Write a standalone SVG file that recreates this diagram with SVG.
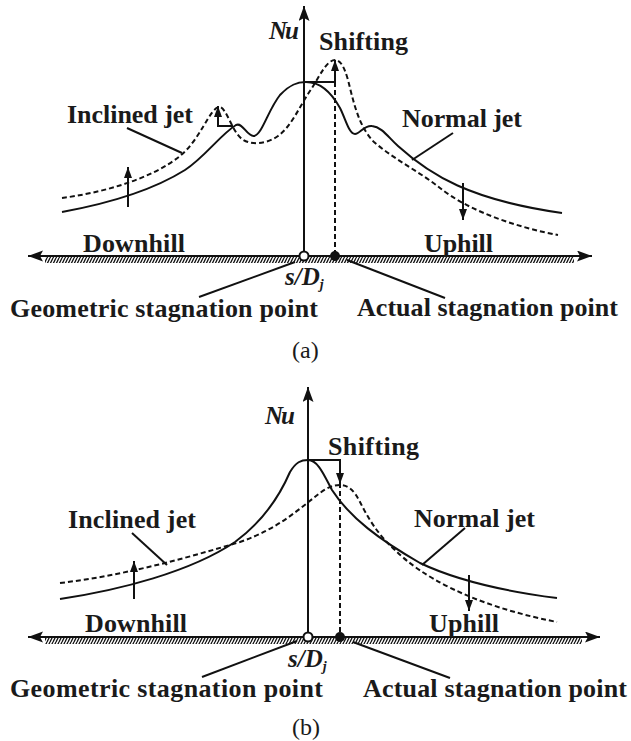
<svg xmlns="http://www.w3.org/2000/svg" width="631" height="741" viewBox="0 0 631 741">
<style>
.t{font-family:"Liberation Serif","Times New Roman",serif;font-weight:bold;font-size:26px;fill:#1a1a1a}
.it{font-family:"Liberation Serif","Times New Roman",serif;font-weight:bold;font-style:italic;font-size:25px;fill:#1a1a1a}
.cap{font-family:"Liberation Serif","Times New Roman",serif;font-size:24px;fill:#1a1a1a}
.ln{fill:none;stroke:#111;stroke-width:2}
.ds{fill:none;stroke:#111;stroke-width:2;stroke-dasharray:5 3}
.ax{fill:none;stroke:#111;stroke-width:2}
</style>
<defs>
<marker id="ah" markerUnits="userSpaceOnUse" markerWidth="16" markerHeight="12" refX="15" refY="5.5" orient="auto"><path d="M0,0 L15,5.5 L0,11 L3,5.5 z" fill="#111"/></marker>
<marker id="sa" markerUnits="userSpaceOnUse" markerWidth="12" markerHeight="9" refX="11" refY="4" orient="auto"><path d="M0,0 L11,4 L0,8 z" fill="#111"/></marker>
<pattern id="hatch" patternUnits="userSpaceOnUse" width="3" height="6"><path d="M-1,6 L2,0 M2,6 L5,0" stroke="#111" stroke-width="1.3"/></pattern>
</defs>

<g id="panel-a">
  <g id="a-axes">
    <rect x="45" y="257" width="529" height="6" fill="url(#hatch)"/>
    <path class="ax" d="M308,256 L28,256" marker-end="url(#ah)"/>
    <path class="ax" d="M300,256 L592,256" marker-end="url(#ah)"/>
    <line class="ax" x1="304" y1="256" x2="304" y2="6" marker-end="url(#ah)"/>
  </g>
  <g id="a-normal-jet">
    <path class="ln" d="M62,212 C100,205 150,192 185,170 C205,157 220,135 236,125 C243,122 247,137 254,136 C262,135 268,110 280,95 C290,84 298,82 306,82 C318,82 330,90 340,108 C346,120 349,134 355,134 C360,134 364,125 372,126 C382,127 388,137 398,146 C430,175 470,200 562,213"/>
  </g>
  <g id="a-inclined-jet">
    <path class="ds" d="M62,198 C100,193 150,180 180,156 C200,140 210,108 219,107 C226,106 232,132 242,139 C250,145 265,145 278,136 C292,126 300,105 312,88 C320,75 327,60 335,60 C343,60 347,75 351,92 C356,112 362,130 374,142 C395,160 420,172 440,188 C470,212 520,228 558,235"/>
  </g>
  <g id="a-stagnation">
    <line class="ds" x1="335" y1="82" x2="335" y2="252"/>
    <circle cx="304" cy="256" r="4.5" fill="#fff" stroke="#111" stroke-width="2"/>
    <circle cx="335" cy="256" r="5" fill="#111"/>
  </g>
  <g id="a-labels">
    <text class="it" x="269" y="39" textLength="30">Nu</text>
    <text class="t" x="319" y="50" textLength="89">Shifting</text>
    <text class="t" x="67" y="123" textLength="126">Inclined jet</text>
    <text class="t" x="402" y="127" textLength="120">Normal jet</text>
    <text class="t" x="83" y="252" textLength="102">Downhill</text>
    <text class="t" x="424" y="252" textLength="69">Uphill</text>
    <text class="it" x="285" y="285">s/D<tspan font-size="14" dy="4">j</tspan></text>
    <text class="t" x="10" y="317" textLength="308">Geometric stagnation point</text>
    <text class="t" x="357" y="316" textLength="261">Actual stagnation point</text>
    <text class="cap" x="292" y="358">(a)</text>
  </g>
</g>

<g id="panel-b">
  <g id="b-axes">
    <rect x="45" y="638" width="537" height="6" fill="url(#hatch)"/>
    <path class="ax" d="M312,637 L28,637" marker-end="url(#ah)"/>
    <path class="ax" d="M304,637 L600,637" marker-end="url(#ah)"/>
    <line class="ax" x1="308" y1="637" x2="308" y2="387" marker-end="url(#ah)"/>
  </g>
  <g id="b-normal-jet">
    <path class="ln" d="M60,599 C120,590 190,572 235,542 C265,520 280,495 290,472 C296,462 301,460 308,460 C318,460 324,475 332,490 C350,518 380,540 420,563 C460,582 510,592 557,598"/>
  </g>
  <g id="b-inclined-jet">
    <path class="ds" d="M60,583 C120,576 180,560 240,542 C280,528 300,508 320,493 C328,487 334,485 340,485 C348,485 354,490 360,502 C368,518 378,535 395,550 C420,575 470,605 557,622"/>
  </g>
  <g id="b-stagnation">
    <line class="ds" x1="340" y1="483" x2="340" y2="633"/>
    <circle cx="308" cy="637" r="4.5" fill="#fff" stroke="#111" stroke-width="2"/>
    <circle cx="340" cy="637" r="5" fill="#111"/>
  </g>
  <g id="b-labels">
    <text class="it" x="265" y="424" textLength="30">Nu</text>
    <text class="t" x="328" y="455" textLength="91">Shifting</text>
    <text class="t" x="68" y="528" textLength="128">Inclined jet</text>
    <text class="t" x="414" y="527" textLength="121">Normal jet</text>
    <text class="t" x="85" y="632" textLength="102">Downhill</text>
    <text class="t" x="429" y="632" textLength="70">Uphill</text>
    <text class="it" x="288" y="667">s/D<tspan font-size="14" dy="4">j</tspan></text>
    <text class="t" x="10" y="697" textLength="313">Geometric stagnation point</text>
    <text class="t" x="363" y="697" textLength="264">Actual stagnation point</text>
    <text class="cap" x="292" y="735">(b)</text>
  </g>
</g>

<g id="connectors">
  <path class="ln" d="M304,82 L335,82 L335,60" marker-end="url(#sa)"/>
  <path class="ln" d="M233,126 L218,126 L218,106" marker-end="url(#sa)"/>
  <line class="ln" x1="128" y1="207" x2="128" y2="167" marker-end="url(#sa)"/>
  <line class="ln" x1="463" y1="183" x2="463" y2="220" marker-end="url(#sa)"/>
  <line class="ln" x1="127" y1="128" x2="182" y2="153"/>
  <line class="ln" x1="453" y1="133" x2="412" y2="160"/>
  <line class="ln" x1="199" y1="297" x2="295" y2="262"/>
  <line class="ln" x1="347" y1="260" x2="445" y2="298"/>

  <path class="ln" d="M308,460 L340,460 L340,484" marker-end="url(#sa)"/>
  <line class="ln" x1="134" y1="599" x2="134" y2="561" marker-end="url(#sa)"/>
  <line class="ln" x1="469" y1="575" x2="469" y2="611" marker-end="url(#sa)"/>
  <line class="ln" x1="132" y1="533" x2="167" y2="565"/>
  <line class="ln" x1="465" y1="528" x2="422" y2="565"/>
  <line class="ln" x1="202" y1="677" x2="297" y2="641"/>
  <line class="ln" x1="353" y1="642" x2="450" y2="678"/>
</g>
</svg>
